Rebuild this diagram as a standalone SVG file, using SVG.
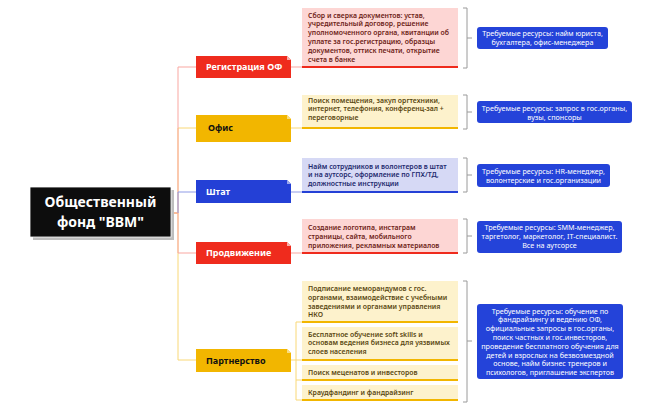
<svg xmlns="http://www.w3.org/2000/svg" width="662" height="410" viewBox="0 0 662 410">
<style>
.bt{font-family:"Noto Sans","Liberation Sans",sans-serif;font-weight:bold;font-size:9px}
.dt{font-family:"Noto Sans","Liberation Sans",sans-serif;font-weight:600;font-size:6.9px}
.rt{font-family:"Noto Sans","Liberation Sans",sans-serif;font-size:7.2px;fill:#fff;text-anchor:middle}
.dr{fill:#FDD6D4}.dy{fill:#FDF2CC}.db{fill:#D6D9F5}
.tr{fill:#6E1E18}.ty{fill:#5A4812}.tb{fill:#1E2A6E}
.res{fill:#2443D9}
.br{fill:none;stroke:#9a9a9a;stroke-width:1}
.fold{fill:#fff}
</style>
<rect width="662" height="410" fill="#fff"/>
<g id="connectors" fill="none" stroke-width="1">
<path d="M171,213 H178 V360 H196" stroke="#F9D877"/>
<path d="M171,213 H178 V253 H196" stroke="#F9A7A1"/>
<path d="M171,213 H178 V128 H196" stroke="#F9D877"/>
<path d="M171,213 H178 V67 H196" stroke="#F9A7A1"/>
<path d="M178,213 V192 H196" stroke="#8F9BE6"/>
<path d="M291,67 H302" stroke="#F9A7A1"/>
<path d="M291,128 H302" stroke="#F9D877"/>
<path d="M291,192 H302" stroke="#8F9BE6"/>
<path d="M291,253 H302" stroke="#F9A7A1"/>
<path d="M291,360 H296 M296,322 V400 M296,322 H302 M296,360 H302 M296,380 H302 M296,400 H302" stroke="#F9D877"/>
</g>
<g id="root">
<rect x="33" y="190" width="141" height="50" fill="#bdbdbd"/>
<rect x="30" y="187" width="141" height="50" fill="#0d0d0d" stroke="#fff" stroke-width="0.8"/>
<text x="100.5" y="207" font-family="Noto Sans,Liberation Sans,sans-serif" font-weight="bold" font-size="14" fill="#fff" text-anchor="middle">Общественный</text>
<text x="100.5" y="227" font-family="Noto Sans,Liberation Sans,sans-serif" font-weight="bold" font-size="14" fill="#fff" text-anchor="middle">фонд "ВВМ"</text>
</g>
<g id="reg">
<path d="M196,56 H287 L291,60 V78 H196 Z" fill="#EF2B1D"/>
<path d="M287,56 L291,60 H287 Z" fill="#f9b0aa"/>
<text class="bt" x="206" y="70" fill="#fff">Регистрация ОФ</text>
<rect class="dr" x="302" y="8" width="156" height="60"/>
<rect x="302" y="66" width="156" height="2" fill="#EF2B1D"/>
<text class="dt tr"><tspan x="308" y="17.5">Сбор и сверка документов: устав,</tspan><tspan x="308" y="26.3">учредительный договор, решение</tspan><tspan x="308" y="35.1">уполномоченного органа, квитанции об</tspan><tspan x="308" y="43.9">уплате за гос.регистрацию, образцы</tspan><tspan x="308" y="52.7">документов, оттиск печати, открытие</tspan><tspan x="308" y="61.5">счета в банке</tspan></text>
<path class="br" d="M463,8 H467 V68 H463 M467,38 H472"/>
<rect class="res" x="477" y="27" width="131" height="22" rx="3"/>
<text class="rt"><tspan x="542.5" y="36">Требуемые ресурсы: найм юриста,</tspan><tspan x="542.5" y="45">бухгалтера, офис-менеджера</tspan></text>
</g>
<g id="office">
<path d="M196,115 H287 L291,119 V142 H196 Z" fill="#F2B600"/>
<path d="M287,115 L291,119 H287 Z" fill="#f9dc80"/>
<text class="bt" x="208" y="131" fill="#111">Офис</text>
<rect class="dy" x="302" y="95" width="156" height="34"/>
<rect x="302" y="127" width="156" height="2" fill="#F2B600"/>
<text class="dt ty"><tspan x="308" y="102.5">Поиск помещения, закуп оргтехники,</tspan><tspan x="308" y="111.3">интернет, телефония, конференц-зал +</tspan><tspan x="308" y="120.1">переговорные</tspan></text>
<path class="br" d="M463,95 H467 V129 H463 M467,112 H472"/>
<rect class="res" x="477" y="101" width="155" height="22" rx="3"/>
<text class="rt"><tspan x="554.5" y="110.5">Требуемые ресурсы: запрос в гос.органы,</tspan><tspan x="554.5" y="119.5">вузы, спонсоры</tspan></text>
</g>
<g id="staff">
<path d="M196,180 H287 L291,184 V203 H196 Z" fill="#2440D6"/>
<path d="M287,180 L291,184 H287 Z" fill="#9aa6ec"/>
<text class="bt" x="206" y="195" fill="#fff">Штат</text>
<rect class="db" x="302" y="158" width="156" height="35"/>
<rect x="302" y="191" width="156" height="2" fill="#2440D6"/>
<text class="dt tb"><tspan x="308" y="168.5">Найм сотрудников и волонтеров в штат</tspan><tspan x="308" y="177.3">и на аутсорс, оформление по ГПХ/ТД,</tspan><tspan x="308" y="186.1">должностные инструкции</tspan></text>
<path class="br" d="M463,158 H467 V192 H463 M467,175 H472"/>
<rect class="res" x="477" y="164" width="133" height="23" rx="3"/>
<text class="rt"><tspan x="543.5" y="174">Требуемые ресурсы: HR-менеджер,</tspan><tspan x="543.5" y="183">волонтерские и гос.организации</tspan></text>
</g>
<g id="promo">
<path d="M196,242 H287 L291,246 V264 H196 Z" fill="#EF2B1D"/>
<path d="M287,242 L291,246 H287 Z" fill="#f9b0aa"/>
<text class="bt" x="206" y="256" fill="#fff">Продвижение</text>
<rect class="dr" x="302" y="219" width="156" height="35"/>
<rect x="302" y="252" width="156" height="2" fill="#EF2B1D"/>
<text class="dt tr"><tspan x="308" y="230">Создание логотипа, инстаграм</tspan><tspan x="308" y="238.8">страницы, сайта, мобильного</tspan><tspan x="308" y="247.6">приложения, рекламных материалов</tspan></text>
<path class="br" d="M463,219 H467 V253 H463 M467,236 H472"/>
<rect class="res" x="477" y="221" width="145" height="32" rx="3"/>
<text class="rt"><tspan x="549.5" y="229.5">Требуемые ресурсы: SMM-менеджер,</tspan><tspan x="549.5" y="238.5">таргетолог, маркетолог, IT-специалист.</tspan><tspan x="549.5" y="247.5">Все на аутсорсе</tspan></text>
</g>
<g id="partner">
<path d="M196,349 H287 L291,353 V372 H196 Z" fill="#F2B600"/>
<path d="M287,349 L291,353 H287 Z" fill="#f9dc80"/>
<text class="bt" x="206" y="363.5" fill="#111">Партнерство</text>
<rect class="dy" x="302" y="281" width="156" height="42"/>
<rect x="302" y="321" width="156" height="2" fill="#F2B600"/>
<text class="dt ty"><tspan x="308" y="291">Подписание меморандумов с гос.</tspan><tspan x="308" y="299.8">органами, взаимодействие с учебными</tspan><tspan x="308" y="308.6">заведениями и органами управления</tspan><tspan x="308" y="317.4">НКО</tspan></text>
<rect class="dy" x="302" y="327" width="156" height="34"/>
<rect x="302" y="359" width="156" height="2" fill="#F2B600"/>
<text class="dt ty"><tspan x="308" y="336.5">Бесплатное обучение soft skills и</tspan><tspan x="308" y="345.3">основам ведения бизнеса для уязвимых</tspan><tspan x="308" y="354.1">слоев населения</tspan></text>
<rect class="dy" x="302" y="365" width="156" height="16"/>
<rect x="302" y="379" width="156" height="2" fill="#F2B600"/>
<text class="dt ty" x="308" y="375">Поиск меценатов и инвесторов</text>
<rect class="dy" x="302" y="385" width="156" height="16"/>
<rect x="302" y="399" width="156" height="2" fill="#F2B600"/>
<text class="dt ty" x="308" y="395">Краудфандинг и фандрайзинг</text>
<path class="br" d="M463,281 H467 V402 H463 M467,341 H472"/>
<rect class="res" x="477" y="304" width="146" height="75" rx="3"/>
<text class="rt"><tspan x="550" y="313.5">Требуемые ресурсы: обучение по</tspan><tspan x="550" y="322.3">фандрайзингу и ведению ОФ,</tspan><tspan x="550" y="331.1">официальные запросы в гос.органы,</tspan><tspan x="550" y="339.9">поиск частных и гос.инвесторов,</tspan><tspan x="550" y="348.7">проведение бесплатного обучения для</tspan><tspan x="550" y="357.5">детей и взрослых на безвозмездной</tspan><tspan x="550" y="366.3">основе, найм бизнес тренеров и</tspan><tspan x="550" y="375.1">психологов, приглашение экспертов</tspan></text>
</g>
</svg>
